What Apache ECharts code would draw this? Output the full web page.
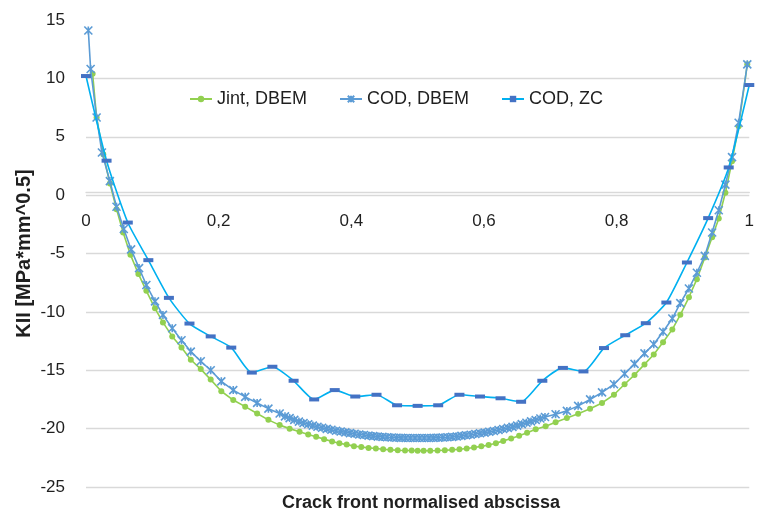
<!DOCTYPE html>
<html>
<head>
<meta charset="utf-8">
<script src="https://cdn.jsdelivr.net/npm/echarts@6/dist/echarts.min.js"></script>
<style>
  html, body { margin: 0; padding: 0; background: #fff; }
  #chart { width: 757px; height: 517px; }
</style>
</head>
<body>
<div id="chart"></div>
<script>
// Normalised abscissa along the crack front and KII values for each method.
const jintX = [
  0.010, 0.016, 0.026, 0.036, 0.046, 0.056, 0.067, 0.079, 0.091, 0.104,
  0.116, 0.130, 0.144, 0.158, 0.173, 0.188, 0.204, 0.222, 0.240, 0.258,
  0.275, 0.292, 0.307, 0.322, 0.335, 0.347, 0.359, 0.371, 0.382, 0.393,
  0.404, 0.415, 0.426, 0.437, 0.448, 0.459, 0.470, 0.481, 0.491, 0.500,
  0.509, 0.519, 0.530, 0.541, 0.552, 0.563, 0.574, 0.585, 0.596, 0.607,
  0.618, 0.629, 0.641, 0.653, 0.665, 0.678, 0.693, 0.708, 0.725, 0.742,
  0.760, 0.778, 0.796, 0.812, 0.827, 0.842, 0.856, 0.870, 0.884, 0.896,
  0.909, 0.921, 0.933, 0.944, 0.954, 0.964, 0.974, 0.984, 0.997
];
const jintKII = [
  10.4, 6.65, 3.5, 1.0, -1.2, -3.2, -5.1, -6.75, -8.2, -9.7,
  -10.9, -12.1, -13.06, -14.1, -14.9, -15.8, -16.8, -17.55, -18.12, -18.7,
  -19.25, -19.7, -20.0, -20.27, -20.5, -20.7, -20.9, -21.1, -21.25, -21.37,
  -21.5, -21.57, -21.65, -21.7, -21.77, -21.82, -21.85, -21.87, -21.88, -21.9,
  -21.9, -21.9, -21.88, -21.85, -21.82, -21.77, -21.7, -21.62, -21.52, -21.4,
  -21.25, -21.05, -20.85, -20.62, -20.35, -20.05, -19.8, -19.45, -19.1, -18.72,
  -18.3, -17.8, -17.1, -16.2, -15.4, -14.5, -13.65, -12.6, -11.5, -10.25,
  -8.75, -7.2, -5.35, -3.6, -2.0, 0.2, 2.9, 5.9, 11.2
];

const codX = [
  0.0035, 0.007, 0.016, 0.024, 0.036, 0.046, 0.057, 0.068, 0.080, 0.091,
  0.104, 0.116, 0.130, 0.144, 0.158, 0.173, 0.188, 0.204, 0.222, 0.240,
  0.258, 0.275, 0.292,
  0.300, 0.307, 0.314, 0.321, 0.328, 0.335, 0.342, 0.349, 0.356, 0.363,
  0.370, 0.377, 0.384, 0.391, 0.398, 0.405, 0.412, 0.419, 0.426, 0.433,
  0.440, 0.447, 0.454, 0.461, 0.468, 0.475, 0.482, 0.489, 0.496, 0.503,
  0.510, 0.517, 0.524, 0.531, 0.538, 0.545, 0.552, 0.559, 0.566, 0.573,
  0.580, 0.587, 0.594, 0.601, 0.608, 0.615, 0.622, 0.629, 0.636, 0.643,
  0.650, 0.657, 0.664, 0.671, 0.678, 0.685, 0.692,
  0.708, 0.725, 0.742, 0.760, 0.778, 0.796, 0.812, 0.827, 0.842, 0.856,
  0.870, 0.884, 0.896, 0.909, 0.921, 0.933, 0.944, 0.954, 0.964, 0.974,
  0.984, 0.997
];
const codKII = [
  14.1, 10.8, 6.65, 3.65, 1.2, -1.0, -2.9, -4.65, -6.25, -7.7,
  -9.1, -10.26, -11.4, -12.43, -13.4, -14.23, -15.0, -15.95, -16.7, -17.28,
  -17.8, -18.29, -18.7,
  -18.95, -19.1, -19.25, -19.4, -19.52, -19.63, -19.74, -19.84, -19.93, -20.02,
  -20.1, -20.18, -20.25, -20.32, -20.38, -20.44, -20.5, -20.55, -20.6, -20.64,
  -20.68, -20.71, -20.74, -20.76, -20.78, -20.79, -20.8, -20.8, -20.8, -20.8,
  -20.8, -20.8, -20.79, -20.78, -20.76, -20.74, -20.71, -20.67, -20.62, -20.57,
  -20.52, -20.46, -20.4, -20.34, -20.27, -20.2, -20.12, -20.03, -19.94, -19.85,
  -19.74, -19.62, -19.5, -19.38, -19.26, -19.13, -19.0,
  -18.77, -18.48, -18.05, -17.5, -16.9, -16.2, -15.3, -14.45, -13.55, -12.77,
  -11.7, -10.57, -9.25, -8.0, -6.65, -5.2, -3.2, -1.3, 0.9, 3.25,
  6.2, 11.2
];

const zcX = [
  0, 0.031, 0.063, 0.094, 0.125, 0.156, 0.188, 0.219, 0.25, 0.281,
  0.313, 0.344, 0.375, 0.406, 0.438, 0.469, 0.5, 0.531, 0.563, 0.594,
  0.625, 0.656, 0.688, 0.719, 0.75, 0.781, 0.813, 0.844, 0.875, 0.906,
  0.938, 0.969, 1
];
const zcKII = [
  10.2, 2.95, -2.35, -5.57, -8.8, -11.0, -12.1, -13.06, -15.2, -14.7,
  -15.9, -17.5, -16.7, -17.25, -17.1, -18.0, -18.05, -18.0, -17.1, -17.25,
  -17.4, -17.7, -15.9, -14.8, -15.1, -13.1, -12.0, -10.97, -9.2, -5.77,
  -1.97, 2.37, 9.43
];

const seriesNames = ['Jint, DBEM', 'COD, DBEM', 'COD, ZC'];
const yTicks = [-25, -20, -15, -10, -5, 0, 5, 10, 15];
const xTitle = 'Crack front normalised abscissa';
const yTitle = 'KII [MPa*mm^0.5]';

function pairs(xs, ys) {
  return xs.map((x, i) => [x, ys[i]]);
}

const FONT = '"Liberation Sans", Arial, sans-serif';
const TEXT = '#1f1f1f';
const GRID = '#D9D9D9';
const GRID_BOTTOM = 30;

// every horizontal gridline except the top one
const gridColors = yTicks.map((v, i) => i === yTicks.length - 1 ? 'rgba(0,0,0,0)' : GRID);

const chart = echarts.init(document.getElementById('chart'), null, { renderer: 'canvas' });

chart.setOption({
  animation: false,
  backgroundColor: '#ffffff',
  textStyle: { fontFamily: FONT },
  grid: { left: 86, right: 2, top: 20, bottom: GRID_BOTTOM, containLabel: false },
  legend: {
    data: seriesNames,
    left: 184,
    top: 85,
    itemWidth: 22,
    itemHeight: 8,
    itemGap: 32,
    textStyle: { fontFamily: FONT, fontSize: 18, color: TEXT }
  },
  graphic: [
    {
      type: 'text',
      x: 421,
      y: 503,
      style: {
        text: xTitle,
        font: 'bold 18px ' + FONT,
        fill: TEXT,
        align: 'center',
        verticalAlign: 'middle'
      }
    }
  ],
  xAxis: {
    type: 'value',
    min: 0,
    max: 1,
    interval: 0.2,
    axisLine: { show: true, onZero: false, lineStyle: { color: GRID, width: 1.3 } },
    axisTick: { show: false },
    splitLine: { show: false },
    axisLabel: {
      fontFamily: FONT,
      fontSize: 17,
      color: TEXT,
      margin: 21,
      formatter: v => String(+v.toFixed(1)).replace('.', ',')
    }
  },
  yAxis: {
    type: 'value',
    min: -25,
    max: 15,
    interval: 5,
    axisLine: { show: false },
    axisTick: { show: false },
    axisLabel: { fontFamily: FONT, fontSize: 17, color: TEXT, margin: 21 },
    splitLine: { show: true, lineStyle: { color: gridColors, width: 1.3 } },
    name: yTitle,
    nameLocation: 'middle',
    nameGap: 52,
    nameMoveOverlap: false,
    nameTextStyle: { fontFamily: FONT, fontSize: 20, fontWeight: 'bold', color: TEXT }
  },
  series: [
    {
      name: seriesNames[0],
      type: 'line',
      data: pairs(jintX, jintKII),
      symbol: 'circle',
      symbolSize: 6,
      itemStyle: { color: '#92D050' },
      lineStyle: { color: '#92D050', width: 1.6 },
      z: 2
    },
    {
      name: seriesNames[1],
      type: 'line',
      data: pairs(codX, codKII),
      symbol: 'path://M0,0L10,10M10,0L0,10M5,0L5,10',
      symbolSize: 8,
      itemStyle: { color: '#5B9BD5', borderColor: '#5B9BD5', borderWidth: 1.6 },
      lineStyle: { color: '#5B9BD5', width: 1.6 },
      z: 3
    },
    {
      name: seriesNames[2],
      type: 'line',
      data: pairs(zcX, zcKII),
      smooth: 0.2,
      symbol: 'rect',
      symbolSize: [10, 4],
      itemStyle: { color: '#4472C4' },
      lineStyle: { color: '#00B0F0', width: 1.6 },
      z: 4
    }
  ]
});

// The horizontal axis crosses the vertical one at KII = 0: shift it up from
// the bottom of the grid to where the value axis places zero.
const zeroY = chart.convertToPixel({ yAxisIndex: 0 }, 0);
const gridBottomY = chart.getHeight() - GRID_BOTTOM;
chart.setOption({ xAxis: { offset: zeroY - gridBottomY } });
</script>
</body>
</html>
